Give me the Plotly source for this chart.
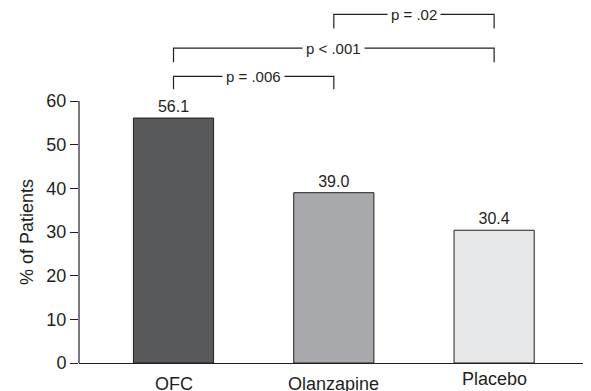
import plotly.graph_objects as go

categories = ["OFC", "Olanzapine", "Placebo"]
values = [56.1, 39.0, 30.4]
value_labels = ["56.1", "39.0", "30.4"]
colors = ["#58595b", "#a7a9ac", "#e6e7e8"]
y_ticks = [0, 10, 20, 30, 40, 50, 60]

# comparisons: (left index, right index, label, bar level, tick-end level)
comparisons = [
    (0, 1, "p = .006", 65.65, 62.7),
    (0, 2, "p < .001", 72.1, 68.9),
    (1, 2, "p = .02", 79.85, 76.6),
]

INK = "#231f20"
FONT = "Liberation Sans, Arial, Helvetica, sans-serif"
xpos = list(range(len(categories)))

fig = go.Figure()
fig.add_trace(go.Bar(
    x=xpos, y=values, width=0.5,
    marker=dict(color=colors, line=dict(color=INK, width=1)),
    text=value_labels, textposition="outside", cliponaxis=False,
    textfont=dict(size=16, color=INK, family=FONT),
    hoverinfo="skip",
))

shapes = []
annotations = []
# y axis line only from 0 to 60
shapes.append(dict(type="line", xref="paper", yref="y", x0=0, x1=0,
                   y0=0, y1=max(y_ticks), line=dict(color=INK, width=1.2)))
for a, b, lab, ytop, yend in comparisons:
    shapes.append(dict(type="path", xref="x", yref="y",
                       path=f"M {a},{yend} L {a},{ytop} L {b},{ytop} L {b},{yend}",
                       line=dict(color=INK, width=1.2)))
    annotations.append(dict(x=(a + b) / 2, y=ytop, xref="x", yref="y",
                            text=lab, showarrow=False, bgcolor="white",
                            borderpad=3, font=dict(size=15, color=INK, family=FONT)))

label_shift = [-9, -9, -4]
for i, c in enumerate(categories):
    annotations.append(dict(x=i, y=0, xref="x", yref="y", text=c, showarrow=False,
                            yanchor="top", yshift=label_shift[i],
                            font=dict(size=18, color=INK, family=FONT)))

annotations.append(dict(x=0, y=30, xref="paper", yref="y", xshift=-52,
                        xanchor="center", yanchor="middle",
                        text="% of Patients", textangle=-90, showarrow=False,
                        font=dict(size=18, color=INK, family=FONT)))

# the page body adds an 8px offset, so the figure is sized to the visible window
fig.update_layout(
    width=583, height=383,
    margin=dict(l=71, r=1, t=0, b=28, autoexpand=False),
    plot_bgcolor="white", paper_bgcolor="white",
    showlegend=False,
    shapes=shapes, annotations=annotations,
    font=dict(family=FONT, color=INK),
    xaxis=dict(range=[-0.5895, 2.598], showticklabels=False, ticks="",
               showline=True, linecolor=INK, linewidth=1.2, automargin=False,
               showgrid=False, zeroline=False, fixedrange=True),
    yaxis=dict(range=[0, 81.3], tickvals=y_ticks, ticks="outside", ticklen=8,
               tickcolor=INK, tickwidth=1.2, showline=False, showgrid=False,
               automargin=False,
               zeroline=False, tickfont=dict(size=18, color=INK, family=FONT)),
)

fig.write_html("out.html")
